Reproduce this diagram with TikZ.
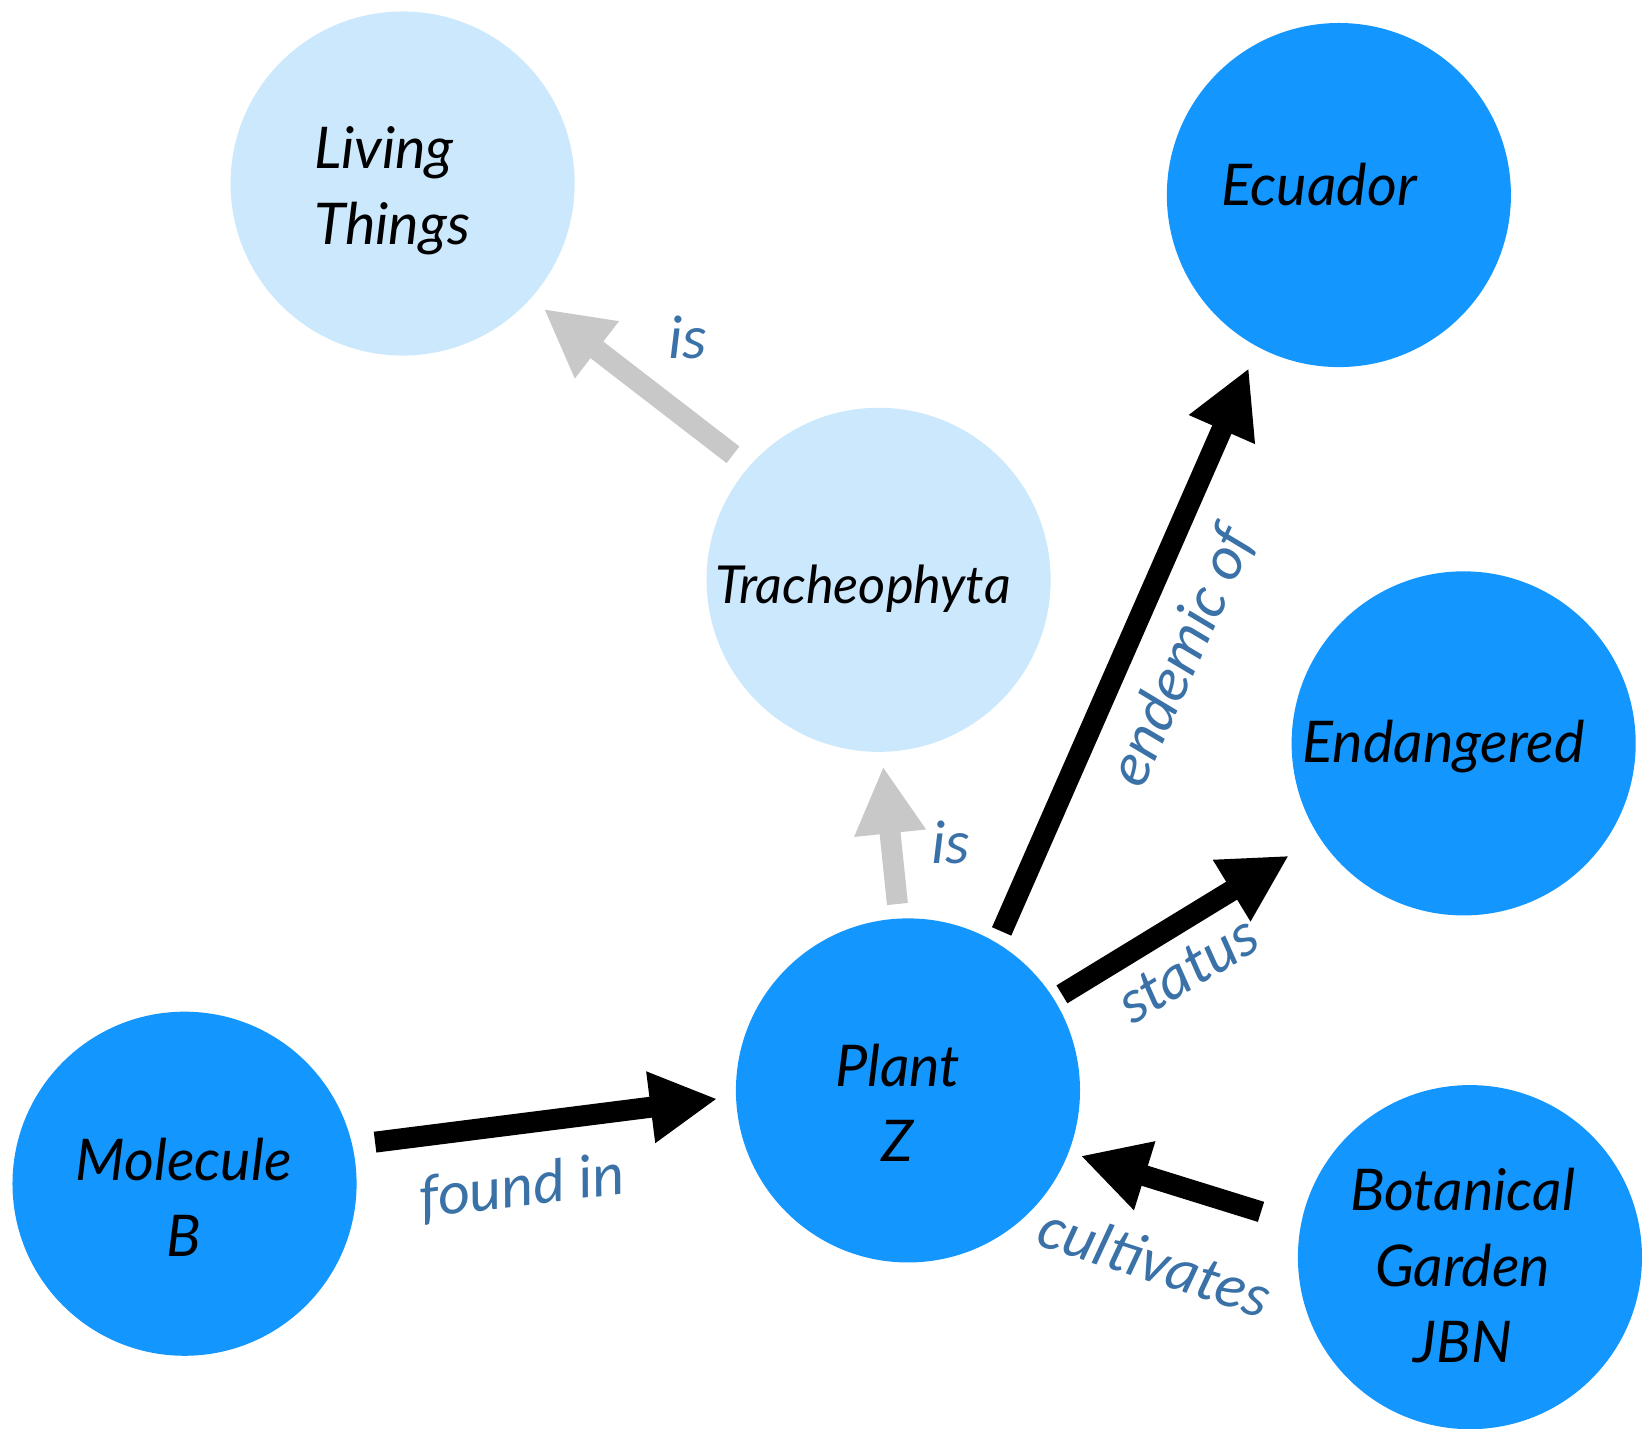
\documentclass[tikz,border=0pt]{standalone}
\usepackage{fontspec}
\setmainfont{Lato}
\newfontfamily\edgefont{Carlito}
\usetikzlibrary{arrows.meta,calc}

\definecolor{entityblue}{RGB}{20,150,255}
\definecolor{conceptblue}{RGB}{204,232,252}
\definecolor{labelblue}{RGB}{58,114,168}
\definecolor{isgray}{RGB}{200,200,200}

\begin{document}
\begin{tikzpicture}[x=0.01cm, y=-0.01cm, >={Triangle[length=0.64cm, width=0.64cm]}]
        \tikzset{entity/.style={circle, fill=entityblue, minimum size=3.28cm, inner sep=0pt, outer sep=0pt},
                 concept/.style={entity, fill=conceptblue},
                 nodetext/.style={align=center, inner sep=0pt, font=\fontsize{15.6}{20.5}\selectfont\itshape},
                 rel/.style={->, line width=0.2cm},
                 isrel/.style={rel, draw=isgray},
                 edgelabel/.style={font=\edgefont\fontsize{16.8}{18}\selectfont\itshape, text=labelblue}}
        \useasboundingbox (0,0) rectangle (1568,1362);
        \node[concept] (living) at (384,175) {};
        \node[concept] (trach) at (838,553) {};
        \node[entity] (ecuador) at (1277,186) {};
        \node[entity] (endangered) at (1396,709) {};
        \node[entity] (plant) at (866,1040) {};
        \node[entity] (molecule) at (176,1129) {};
        \node[entity] (garden) at (1402,1199) {};
        \node[nodetext, align=left] (living-t) at ($(living)+(-10,7)$) {Living\\Things};
        \node[nodetext, font=\fontsize{14.2}{18}\selectfont\itshape] (trach-t) at ($(trach)+(-15,8)$) {Tracheophyta};
        \node[nodetext] (ecuador-t) at ($(ecuador)+(-19,-10)$) {Ecuador};
        \node[nodetext] (endangered-t) at ($(endangered)+(-19,3)$) {Endangered};
        \node[nodetext] (plant-t) at ($(plant)+(-10,12)$) {Plant\\Z};
        \node[nodetext] (molecule-t) at ($(molecule)+(-1,13)$) {Molecule\\B};
        \node[nodetext] (garden-t) at ($(garden)+(-7,8)$) {Botanical\\Garden\\JBN};
        \draw[rel, shorten <=0.22cm, shorten >=0.18cm] (molecule.13) -- (plant.182);
        \draw[isrel, shorten <=0.14cm, shorten >=0.14cm] (plant.93) -- (trach.271);
        \draw[isrel, shorten <=0.19cm, shorten >=0.16cm] (trach.139) -- (living.318);
        \draw[rel, shorten <=0.12cm, shorten >=0.22cm] (plant.59) -- (ecuador.242);
        \draw[rel, shorten <=0.09cm, shorten >=0.34cm] (plant.32) -- (endangered.213);
        \draw[rel, shorten <=0.40cm, shorten >=0.12cm] (garden.169) -- (plant.339);
        \node[edgelabel, rotate=7] (lfound) at (498,1133) {found in};
        \node[edgelabel] (lis1) at (907,803) {is};
        \node[edgelabel] (lis2) at (656,322) {is};
        \node[edgelabel, rotate=66] (lendemic) at (1128,627) {endemic of};
        \node[edgelabel, rotate=31] (lstatus) at (1133,925) {status};
        \node[edgelabel, rotate=-18] (lcult) at (1102,1203) {cultivates};
    \end{tikzpicture}
\end{document}
